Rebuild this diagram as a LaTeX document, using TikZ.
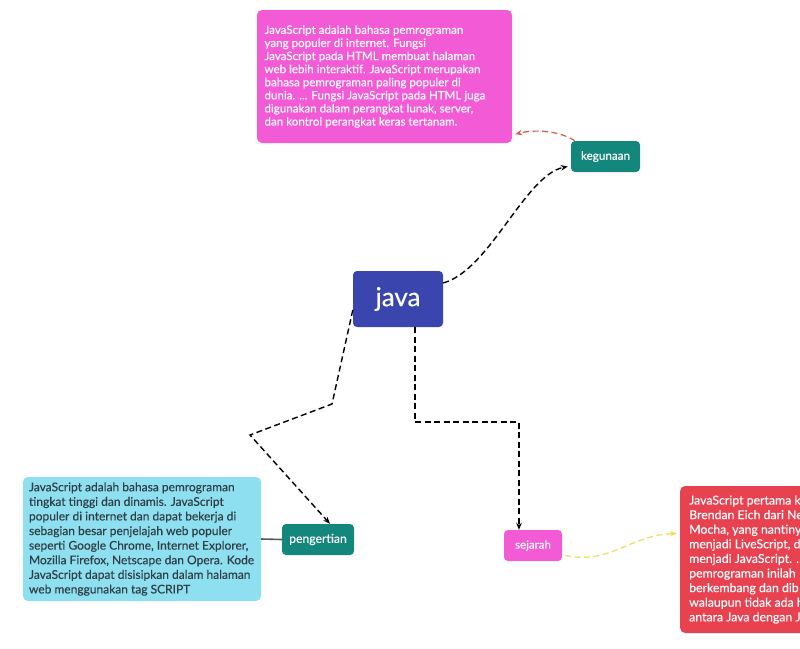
\documentclass[tikz,border=0pt]{standalone}
\usepackage{fontspec}
\setmainfont{Lato}[FakeBold=0.25,AutoFakeBold=0.25]
\usetikzlibrary{arrows.meta,calc}
\definecolor{pinkc}{HTML}{F25AD6}
\definecolor{tealc}{HTML}{13877B}
\definecolor{bluec}{HTML}{3A46AE}
\definecolor{cyanc}{HTML}{8EDFF0}
\definecolor{redc}{HTML}{E8414F}
\definecolor{yellowc}{HTML}{F2DC55}
\definecolor{reddash}{HTML}{D9584B}
\definecolor{cyantext}{HTML}{2F3F45}
\tikzset{
  box/.style={rounded corners=4pt, inner sep=0pt, align=center},
  small/.style={box, minimum height=31pt, text=white},
  textbox/.style={rounded corners=5pt, inner sep=0pt, align=left},
  conn/.style={line width=1.4pt, dash pattern=on 6pt off 3.5pt, -{Stealth[length=7pt,width=5.5pt]}},
}
\begin{document}
\begin{tikzpicture}[x=1pt,y=-1pt]
\clip (0,0) rectangle (800,648);
\fill[white] (0,0) rectangle (800,648);

\node[textbox, fill=pinkc, text=white, minimum width=255pt, minimum height=133pt,
      font=\fontsize{11.6}{13.1}\selectfont] (pink) at (384.5,76.5)
  {\begin{minipage}{240pt}\raggedright
  JavaScript adalah bahasa pemrograman\\
  yang populer di internet. Fungsi\\
  JavaScript pada HTML membuat halaman\\
  web lebih interaktif. JavaScript merupakan\\
  bahasa pemrograman paling populer di\\
  dunia. ... Fungsi JavaScript pada HTML juga\\
  digunakan dalam perangkat lunak, server,\\
  dan kontrol perangkat keras tertanam.
  \end{minipage}};

\node[small, fill=tealc, minimum width=69pt, font=\fontsize{11.7}{14}\selectfont] (keg) at (605.5,156.5) {kegunaan};

\node[box, fill=bluec, text=white, minimum width=90pt, minimum height=56pt,
      font=\fontsize{26}{30}\selectfont] (java) at (398,299) {java};

\node[small, fill=tealc, minimum width=72pt, font=\fontsize{12.2}{14}\selectfont] (peng) at (318,539.5) {pengertian};

\node[small, fill=pinkc, minimum width=58pt, font=\fontsize{11.5}{14}\selectfont] (sej) at (533,545.5) {sejarah};

\node[textbox, fill=cyanc, text=cyantext, minimum width=238pt, minimum height=124pt,
      font=\fontsize{12}{14.6}\selectfont] (cyan) at (142,539)
  {\begin{minipage}{226pt}\raggedright
  JavaScript adalah bahasa pemrograman\\
  tingkat tinggi dan dinamis. JavaScript\\
  populer di internet dan dapat bekerja di\\
  sebagian besar penjelajah web populer\\
  seperti Google Chrome, Internet Explorer,\\
  Mozilla Firefox, Netscape dan Opera. Kode\\
  JavaScript dapat disisipkan dalam halaman\\
  web menggunakan tag SCRIPT
  \end{minipage}};

\node[textbox, fill=redc, text=white, minimum width=170pt, minimum height=147pt,
      anchor=west, font=\fontsize{12.3}{14.6}\selectfont] (red) at (680,559.5)
  {\begin{minipage}{152pt}\raggedright
  JavaScript pertama k\\
  Brendan Eich dari Ne\\
  Mocha, yang nantiny\\
  menjadi LiveScript, d\\
  menjadi JavaScript. .\\
  pemrograman inilah\\
  berkembang dan dib\\
  walaupun tidak ada h\\
  antara Java dengan J
  \end{minipage}};

% connectors
\draw[conn] ([yshift=16pt]java.east) .. controls (490,270) and (525,175) .. ([xshift=-3pt,yshift=-10pt]keg.west);
\draw[conn, reddash, line width=1.2pt] ([xshift=4pt]keg.north west) .. controls (560,131) and (535,129) .. ([xshift=3pt,yshift=9pt]pink.south east);
\coordinate (p1) at (332,404);
\coordinate (p2) at (250,435);
\draw[conn] ([yshift=-11pt]java.west) -- (p1) -- (p2) -- ([xshift=12pt]peng.north);
\coordinate (s1) at (415,422);
\coordinate (s2) at (519,422);
\draw[conn] ([xshift=17pt]java.south) -- (s1) -- (s2) -- ([xshift=-14pt]sej.north);
\draw[conn, yellowc, line width=1.2pt] ([xshift=3pt,yshift=-10pt]sej.east) .. controls (610,565) and (630,535) .. ([xshift=-3pt,yshift=26pt]red.west);
\draw[line width=1.6pt, draw=black!65] (cyan.east) -- (peng.west);
\end{tikzpicture}
\end{document}
